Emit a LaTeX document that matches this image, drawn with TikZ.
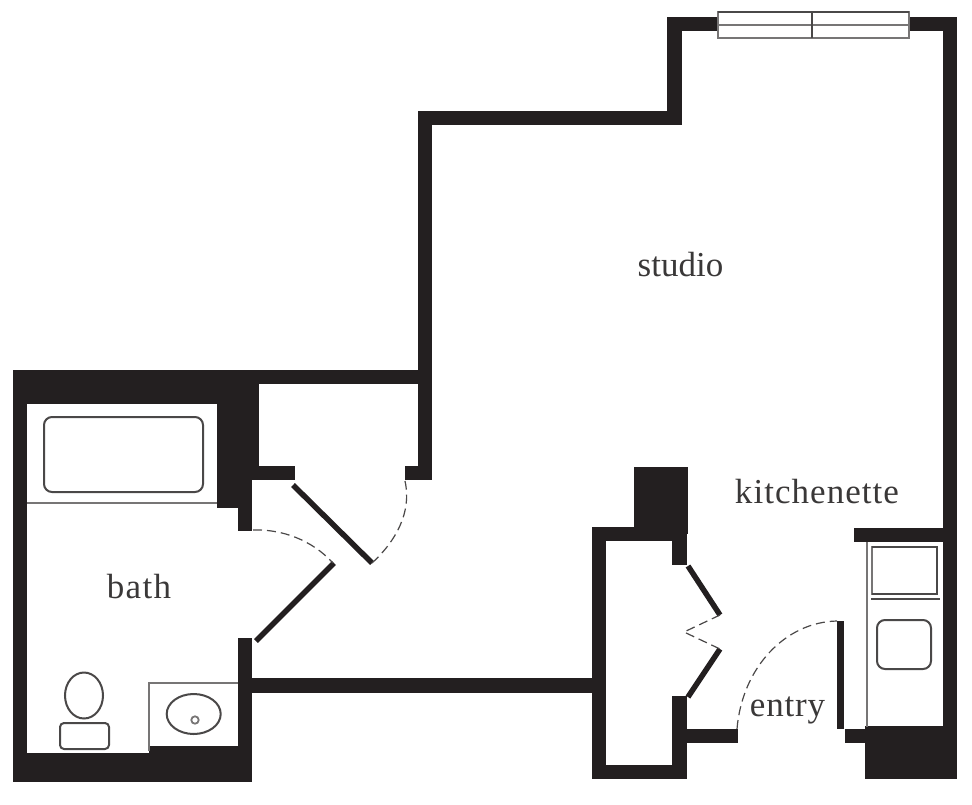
\documentclass[tikz,border=0pt]{standalone}
\usepackage{fontspec}
\setmainfont{Liberation Serif}
\definecolor{wallc}{HTML}{231F20}
\definecolor{linec}{HTML}{4A4848}
\definecolor{grayc}{HTML}{777575}
\definecolor{textc}{HTML}{3A3838}
\tikzset{
  wall/.style={fill=wallc,draw=none},
  doorleaf/.style={draw=wallc,line width=5.5pt},
  swing/.style={draw=linec,line width=1.2pt,dash pattern=on 9pt off 5pt},
  fixture/.style={draw=linec,line width=2pt},
  thin gray/.style={draw=grayc,line width=1.8pt},
  label/.style={text=textc,inner sep=0pt,font=\fontsize{35}{35}\selectfont}
}
\begin{document}
\begin{tikzpicture}[x=1pt,y=-1pt]
\useasboundingbox (0,0) rectangle (972,804);
\fill[white] (0,0) rectangle (972,804);
% main wall outline pieces
\fill[wall] (13,369.5) rectangle (432,383.5);
\fill[wall] (13,369.5) rectangle (27,782);
\fill[wall] (13,369.5) rectangle (259,404);
\fill[wall] (217,369.5) rectangle (259,480);
\fill[wall] (217,404) rectangle (252,508);
\fill[wall] (238,480) rectangle (252,531);
\fill[wall] (259,466) rectangle (295,480);
\fill[wall] (418,110.5) rectangle (432,480);
\fill[wall] (405,466) rectangle (432,480);
\fill[wall] (418,110.5) rectangle (682,125);
\fill[wall] (667,17) rectangle (682,125);
\fill[wall] (667,17) rectangle (718,31);
\fill[wall] (909,17) rectangle (957,31);
\fill[wall] (943,17) rectangle (957,779);
% bath bottom
\fill[wall] (13,753) rectangle (252,782);
\fill[wall] (149,746) rectangle (252,782);
\fill[wall] (238,638) rectangle (252,782);
\fill[wall] (252,678) rectangle (592,692.5);
% closet
\fill[wall] (634,467) rectangle (688,534);
\fill[wall] (592,527) rectangle (687,541);
\fill[wall] (592,527) rectangle (606,779);
\fill[wall] (592,765) rectangle (687,779);
\fill[wall] (672,527) rectangle (687,565);
\fill[wall] (672,696) rectangle (687,779);
\fill[wall] (687,729) rectangle (738,743);
% kitchen
\fill[wall] (854,527.5) rectangle (943,542);
\fill[wall] (837,621) rectangle (844,729);
\fill[wall] (845,729) rectangle (877,743);
\fill[wall] (865,726) rectangle (957,779);
% window
\draw[thin gray] (718,12) rectangle (909,38);
\draw[linec,line width=1.2pt] (718,12) -- (909,12);
\draw[thin gray,line width=2.4pt] (718,25) -- (909,25);
\draw[linec,line width=1.2pt] (812,12) -- (812,38);
% doors
\draw[doorleaf] (293,485) -- (372,563);
\draw[doorleaf] (334,563) -- (256,641);
\draw[doorleaf] (688,566) -- (720,615);
\draw[doorleaf] (720,649) -- (688,697);
% swings
\draw[swing] (372,563) .. controls (396,541) and (412,512) .. (405,481);
\draw[swing] (253,530) .. controls (282,529) and (312,540) .. (333,563);
\draw[swing] (720,615) -- (684,632) -- (720,649);
\draw[swing] (737,729) .. controls (742,668) and (785,622) .. (837,621);
% bath fixtures
\draw[thin gray] (27,503) -- (217,503);
\draw[fixture,rounded corners=8pt] (44,417) rectangle (203,492);
\draw[fixture] (84,695.5) ellipse [x radius=19, y radius=23];
\draw[fixture,rounded corners=4pt] (60,723) rectangle (109,749);
\draw[thin gray] (238,683) -- (149,683) -- (149,751);
\draw[fixture] (193.7,714) ellipse [x radius=27, y radius=20];
\draw[thin gray] (195,720) circle (3.7);
% kitchen fixtures
\draw[thin gray] (867,542) -- (867,727);
\draw[thin gray] (872,547) rectangle (937,594);
\draw[linec,line width=1.2pt] (872,547) -- (937,547) -- (937,594) -- (872,594);
\draw[linec,line width=1.5pt] (871,599) -- (940,599);
\draw[fixture,rounded corners=8pt] (877,620) rectangle (931,669);
% labels
\node[label] (studio) at (680.5,265) {studio};
\node[label] (kitchenette) at (817,492) {\addfontfeature{LetterSpace=3}kitchenette};
\node[label] (bath) at (139,587) {\addfontfeature{LetterSpace=3.7}bath};
\node[label] (entry) at (787.5,710.5) {\addfontfeature{LetterSpace=2.3}entry};
\end{tikzpicture}
\end{document}
